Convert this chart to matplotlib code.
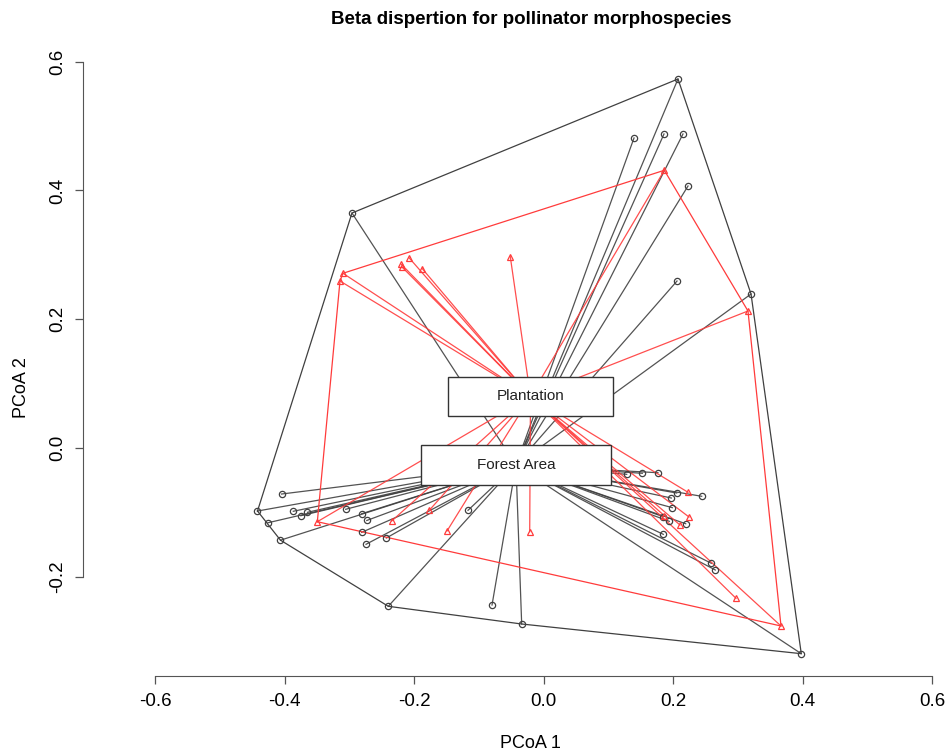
import numpy as np
import matplotlib
matplotlib.use('Agg')
import matplotlib.pyplot as plt
from matplotlib.patches import Rectangle

plt.rcParams['font.family'] = ['Liberation Sans', 'DejaVu Sans']

# PCoA scores, Forest Area (black circles)
forest_x = [0.2077, 0.1398, 0.1861, 0.2154, 0.2232, 0.2062, 0.3205, -0.2958,
            -0.4046, -0.4417, -0.3864, -0.3748, -0.3645, -0.3055, -0.2808, -0.2729,
            -0.4258, -0.2808, -0.2428, -0.4062, -0.2741, -0.1166, -0.2397, -0.0795,
            -0.0337, 0.1285, 0.1526, 0.1768, 0.2057, 0.2443, 0.1974, 0.1989,
            0.1850, 0.1943, 0.2196, 0.1850, 0.2592, 0.2653, 0.3981]
forest_y = [0.5732, 0.4816, 0.4878, 0.4878, 0.4070, 0.2594, 0.2392, 0.3650,
            -0.0715, -0.0979, -0.0983, -0.1052, -0.0999, -0.0952, -0.1021, -0.1126,
            -0.1162, -0.1310, -0.1398, -0.1432, -0.1496, -0.0968, -0.2459, -0.2439,
            -0.2734, -0.0409, -0.0393, -0.0384, -0.0699, -0.0750, -0.0777, -0.0927,
            -0.1067, -0.1139, -0.1176, -0.1341, -0.1791, -0.1895, -0.3195]

# PCoA scores, Plantation (red triangles)
plant_x = [0.1866, 0.3158, -0.3097, -0.3143, -0.2196, -0.2181, -0.2077, -0.1872,
           -0.0513, -0.3493, -0.2344, -0.1764, -0.1490, -0.0213, 0.2232, 0.2247,
           0.2108, 0.1866, 0.2973, 0.3668]
plant_y = [0.4314, 0.2128, 0.2714, 0.2594, 0.2854, 0.2807, 0.2956, 0.2785,
           0.2972, -0.1145, -0.1134, -0.0968, -0.1289, -0.1300, -0.0688, -0.1072,
           -0.1196, -0.1052, -0.2335, -0.2765]

groups = ['Forest Area', 'Plantation']
centroid_x = [-0.0425, -0.0201]
centroid_y = [-0.0264, 0.0800]


def hull(x, y):
    pts = sorted(set(zip(x, y)))
    def cross(o, a, b):
        return (a[0]-o[0])*(b[1]-o[1]) - (a[1]-o[1])*(b[0]-o[0])
    lower, upper = [], []
    for p in pts:
        while len(lower) >= 2 and cross(lower[-2], lower[-1], p) <= 0:
            lower.pop()
        lower.append(p)
    for p in reversed(pts):
        while len(upper) >= 2 and cross(upper[-2], upper[-1], p) <= 0:
            upper.pop()
        upper.append(p)
    h = lower[:-1] + upper[:-1]
    h.append(h[0])
    return [p[0] for p in h], [p[1] for p in h]


fig = plt.figure(figsize=(9.49, 7.51), dpi=100)
ax = fig.add_axes([83/949, 75/751, 857/949, 631/751])
ax.set_xlim((83-543.5)/647.5, (940-543.5)/647.5)
ax.set_ylim((448-676)/643.75, (448-45)/643.75)

black = '#404040'
red = '#ff3b3b'
sets = [(forest_x, forest_y, black, 'o'), (plant_x, plant_y, red, '^')]
for i, (xs, yx, col, mk) in enumerate(sets):
    for px, py in zip(xs, yx):
        ax.plot([px, centroid_x[i]], [py, centroid_y[i]], color=col, lw=0.9, alpha=0.9, zorder=2)
    hx, hy = hull(xs, yx)
    ax.plot(hx, hy, color=col, lw=0.9, zorder=2)
for xs, yx, col, mk in sets:
    ax.plot(xs, yx, linestyle='none', marker=mk, markersize=4.5, mfc='none',
            mec=col, mew=0.9, zorder=3)

# centroid labels in boxes
box_w = [190/647.5, 165/647.5]
box_h = [40/643.75, 39/643.75]
for i, g in enumerate(groups):
    ax.add_patch(Rectangle((centroid_x[i]-box_w[i]/2, centroid_y[i]-box_h[i]/2),
                           box_w[i], box_h[i], facecolor='white', edgecolor='#333333',
                           lw=1.0, zorder=5))
    ax.text(centroid_x[i], centroid_y[i], g, ha='center', va='center',
            fontsize=11, color='#222222', zorder=6)

for s in ['top', 'right']:
    ax.spines[s].set_visible(False)
ax.spines['left'].set_bounds(-0.2, 0.6)
ax.spines['bottom'].set_bounds(-0.6, 0.6)
for s in ['left', 'bottom']:
    ax.spines[s].set_color('#555555')
ax.set_xticks(np.arange(-0.6, 0.61, 0.2))
ax.set_xticklabels(['-0.6', '-0.4', '-0.2', '0.0', '0.2', '0.4', '0.6'])
ax.set_yticks(np.arange(-0.2, 0.61, 0.2))
ax.set_yticklabels(['-0.2', '0.0', '0.2', '0.4', '0.6'], rotation=90, va='center')
ax.tick_params(axis='both', direction='out', length=6, width=0.9, color='#555555',
               labelsize=13.5, pad=6)

fig.text(531/949, 1-20/751, 'Beta dispertion for pollinator morphospecies',
         ha='center', va='center', fontsize=13.5, fontweight='bold')
fig.text(530/949, 1-743/751, 'PCoA 1', ha='center', va='center', fontsize=13)
fig.text(22/949, 1-388/751, 'PCoA 2', ha='center', va='center', fontsize=13, rotation=90)

fig.savefig('out.png', dpi=100)
